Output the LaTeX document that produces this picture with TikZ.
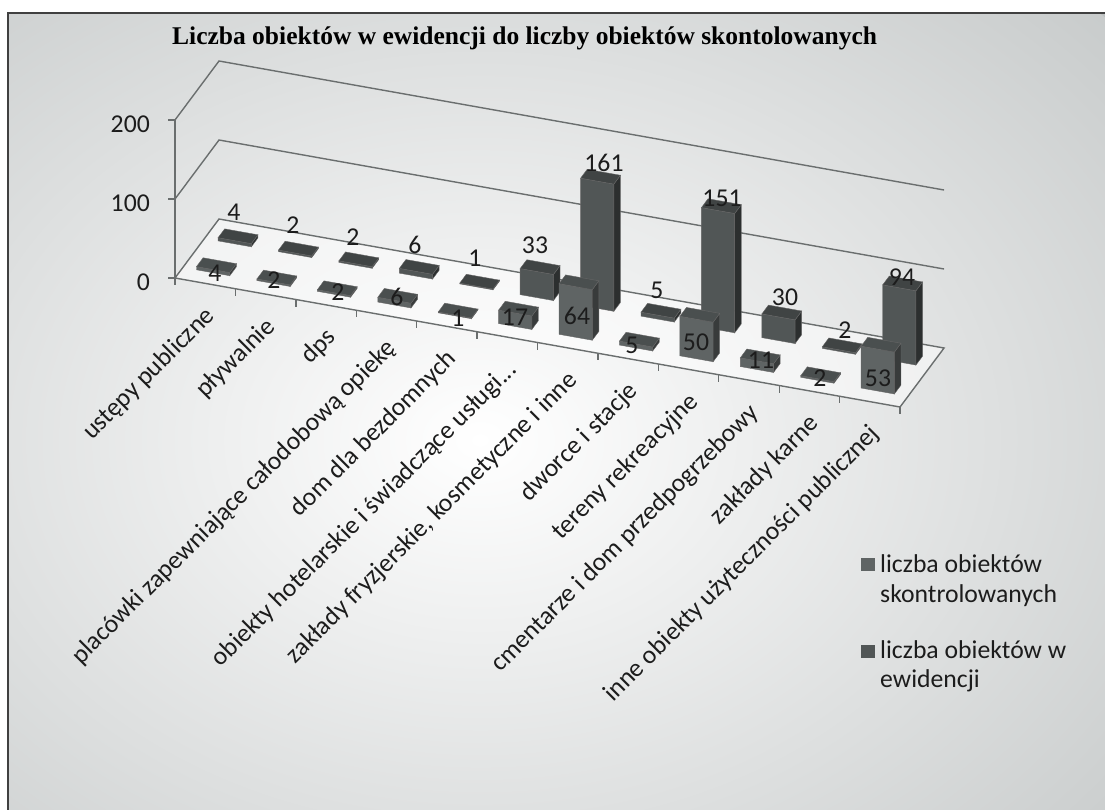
\documentclass[tikz,border=0pt]{standalone}
\usepackage{fontspec}
\setmainfont{Carlito}
\newfontfamily\titlefont{Liberation Serif}
\definecolor{bgc}{HTML}{BCC0C0}
\definecolor{axc}{HTML}{6A6E6E}
\definecolor{fFront}{HTML}{5F6464}
\definecolor{fTop}{HTML}{4A4F4F}
\definecolor{fSide}{HTML}{383B3B}
\definecolor{bFront}{HTML}{515656}
\definecolor{bTop}{HTML}{404444}
\definecolor{bSide}{HTML}{2C2F2F}
\definecolor{txt}{HTML}{1C1C1C}
\newcommand\colbar[4]{% #1 centre, #2 depth start, #3 value, #4 prefix
  \fill[#4Front,draw=black!60,line width=0.4pt] (#1-0.275,0,#2) -- (#1+0.275,0,#2) -- (#1+0.275,#3,#2) -- (#1-0.275,#3,#2) -- cycle;
  \fill[#4Side,draw=black!60,line width=0.4pt] (#1+0.275,0,#2) -- (#1+0.275,0,#2+0.15) -- (#1+0.275,#3,#2+0.15) -- (#1+0.275,#3,#2) -- cycle;
  \fill[#4Top,draw=black!60,line width=0.4pt] (#1-0.275,#3,#2) -- (#1+0.275,#3,#2) -- (#1+0.275,#3,#2+0.15) -- (#1-0.275,#3,#2+0.15) -- cycle;
}
\begin{document}
\begin{tikzpicture}[x=1pt,y=-1pt,
  font=\fontsize{25.7}{30}\selectfont,
  gridln/.style={draw=axc,line width=1.4pt},
  lbl/.style={inner sep=0pt,text=txt},
  catlbl/.style={inner sep=0pt,rotate=45,anchor=east,text=txt,text height=0.7em,text depth=0.22em},
  legtxt/.style={inner sep=0pt,anchor=base west,text=txt},
  ttl/.style={inner sep=0pt,anchor=base west,text=black,font=\titlefont\bfseries\fontsize{25.5}{30}\selectfont}]
\useasboundingbox (0,0) rectangle (1105,810);
% background and frame
\fill[white] (0,0) rectangle (1105,810);
\fill[bgc] (8,13) rectangle (1125,830);
\begin{scope}
  \clip (8,13) rectangle (1125,830);
  \shade[inner color=white,outer color=bgc,rotate around={-15:(480,440)}] (480,440) ellipse (980 and 660);
\end{scope}
\draw[line width=2pt,black!75] (8,13) rectangle (1125,830);
% title
\node[ttl] (title) at (172,45) {Liczba obiektów w ewidencji do liczby obiektów skontolowanych};
% 3D chart
\begin{scope}[shift={(175pt,-278pt)},x={(60.42pt,-10.75pt)},y={(0pt,0.79pt)},z={(44pt,59pt)}]
  \fill[white,opacity=0.5] (0,0,0) -- (12,0,0) -- (12,0,1) -- (0,0,1) -- cycle;
  \draw[gridln] (0,0,0) -- (12,0,0) -- (12,0,1) -- (0,0,1) -- cycle;
  \draw[gridln] (0,100,0) -- (0,100,1) -- (12,100,1);
  \draw[gridln] (0,200,0) -- (0,200,1) -- (12,200,1);
  \draw[gridln] (0,0,0) -- (0,200,0);
  \foreach \k in {0,...,12} \draw[gridln] (\k,0,0) -- ++(0pt,-7pt);
  \foreach \v in {0,100,200} {
    \draw[gridln] (0,\v,0) -- ++(-7pt,0pt);
    \node[xshift=-25pt,yshift=-4pt,lbl,anchor=east] (ylab\v) at (0,\v,0) {\v};
  }
  % back series: liczba obiektów w ewidencji
  \foreach \v [count=\i] in {4,2,2,6,1,33,161,5,151,30,2,94} {\colbar{\i-0.5}{0.67}{\v}{b}}
  % front series: liczba obiektów skontrolowanych
  \foreach \v [count=\i] in {4,2,2,6,1,17,64,5,50,11,2,53} {\colbar{\i-0.5}{0.18}{\v}{f}}
  % category labels
  \node[xshift=9pt,yshift=-32pt,catlbl] (cat1) at (0.5,0,0) {ustępy publiczne};
  \node[xshift=9pt,yshift=-32pt,catlbl] (cat2) at (1.5,0,0) {pływalnie};
  \node[xshift=9pt,yshift=-32pt,catlbl] (cat3) at (2.5,0,0) {dps};
  \node[xshift=9pt,yshift=-32pt,catlbl] (cat4) at (3.5,0,0) {placówki zapewniające całodobową opiekę};
  \node[xshift=9pt,yshift=-32pt,catlbl] (cat5) at (4.5,0,0) {dom dla bezdomnych};
  \node[xshift=9pt,yshift=-32pt,catlbl] (cat6) at (5.5,0,0) {obiekty hotelarskie i świadczące usługi...};
  \node[xshift=9pt,yshift=-32pt,catlbl] (cat7) at (6.5,0,0) {zakłady fryzjerskie, kosmetyczne i inne};
  \node[xshift=9pt,yshift=-32pt,catlbl] (cat8) at (7.5,0,0) {dworce i stacje};
  \node[xshift=9pt,yshift=-32pt,catlbl] (cat9) at (8.5,0,0) {tereny rekreacyjne};
  \node[xshift=9pt,yshift=-32pt,catlbl] (cat10) at (9.5,0,0) {cmentarze i dom przedpogrzebowy};
  \node[xshift=9pt,yshift=-32pt,catlbl] (cat11) at (10.5,0,0) {zakłady karne};
  \node[xshift=9pt,yshift=-32pt,catlbl] (cat12) at (11.5,0,0) {inne obiekty użyteczności publicznej};
\end{scope}
% data labels
\foreach \p/\t [count=\i] in {(215,273)/4,(274,280)/2,(338,292)/2,(397,297)/6,(458,318)/1,(515,317)/17,(577,316)/64,(632,345)/5,(696,342)/50,(761,360)/11,(820,378)/2,(878,378)/53}
  \node[lbl] (fl\i) at \p {\t};
\foreach \p/\t [count=\i] in {(234,212)/4,(293,225)/2,(353,237)/2,(415,245)/6,(475,258)/1,(535,245)/33,(604,163)/161,(657,290)/5,(722,198)/151,(785,297)/30,(845,330)/2,(902,277)/94}
  \node[lbl] (bl\i) at \p {\t};
% legend
\fill[fFront] (861,558) rectangle (875,571);
\node[legtxt] (legA1) at (880,572) {liczba obiektów};
\node[legtxt] (legA2) at (880,602) {skontrolowanych};
\fill[bFront] (861,645) rectangle (875,658);
\node[legtxt] (legB1) at (880,658) {liczba obiektów w};
\node[legtxt] (legB2) at (880,687) {ewidencji};
\end{tikzpicture}
\end{document}
